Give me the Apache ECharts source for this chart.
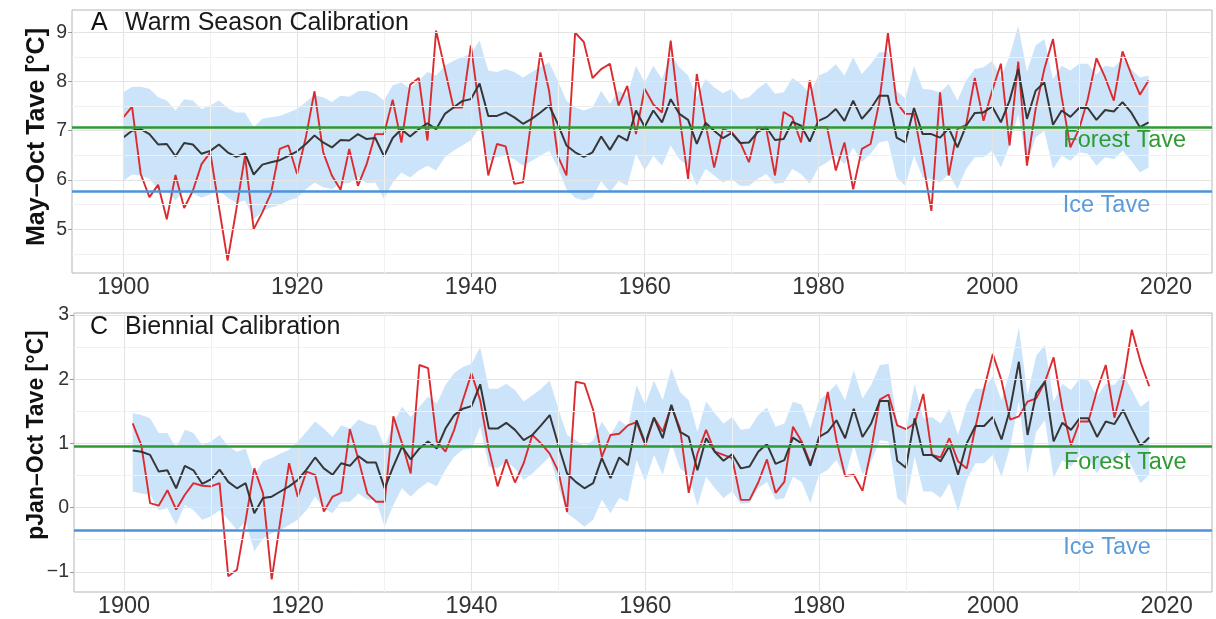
<!DOCTYPE html>
<html>
<head>
<meta charset="utf-8">
<script src="https://cdn.jsdelivr.net/npm/echarts@6.0.0/dist/echarts.min.js"></script>
<style>
html,body{margin:0;padding:0;background:#fff;}
#chart{width:1216px;height:619px;}
</style>
</head>
<body>
<div id="chart"></div>
<script>
// ---------- tick labels / reference values ----------
const xTickLabels = [1900, 1920, 1940, 1960, 1980, 2000, 2020];
const xMinorGrid = [1910, 1930, 1950, 1970, 1990, 2010];
const topYTicks = [5, 6, 7, 8, 9];
const topYMinor = [4.5, 5.5, 6.5, 7.5, 8.5];
const botYTicks = [-1, 0, 1, 2, 3];
const botYMinor = [-0.5, 0.5, 1.5, 2.5];
const topForest = 7.07, topIce = 5.78;
const botForest = 0.955, botIce = -0.352;

// ---------- panel A: Warm Season Calibration (1900-2018) ----------
const topStartYear = 1900;
const topObserved = [
7.27,7.49,6.12,5.65,5.90,5.20,6.10,5.43,5.78,6.32,
6.56,5.45,4.36,5.40,6.49,5.00,5.34,5.73,6.63,6.70,
6.12,6.86,7.80,6.56,6.09,5.80,6.63,5.88,6.32,6.93,
6.93,7.63,6.76,7.93,8.07,6.80,9.03,8.25,7.47,7.47,
8.73,7.40,6.09,6.73,6.68,5.92,5.95,7.27,8.59,7.81,
6.49,6.09,8.99,8.80,8.07,8.25,8.36,7.51,7.91,6.93,
7.85,7.53,7.37,8.83,7.30,6.02,8.15,7.14,6.25,7.03,
6.97,6.76,6.36,7.07,7.03,6.09,7.38,7.27,6.76,8.02,
7.07,7.07,6.19,6.76,5.81,6.63,6.73,7.57,8.98,7.57,
7.34,7.34,6.40,5.37,7.78,6.09,7.03,7.12,8.07,7.20,
7.81,8.36,6.70,8.40,6.29,7.44,8.25,8.86,7.68,6.66,
7.03,7.64,8.47,8.08,7.61,8.61,8.15,7.73,8.02
];
const topRecon = [
6.86,7.00,7.03,6.93,6.72,6.73,6.48,6.75,6.72,6.53,
6.59,6.72,6.56,6.47,6.54,6.11,6.31,6.36,6.40,6.49,
6.58,6.73,6.90,6.76,6.66,6.81,6.80,6.93,6.83,6.85,
6.48,6.85,7.03,6.88,7.03,7.15,7.03,7.34,7.47,7.60,
7.64,7.96,7.30,7.30,7.37,7.27,7.14,7.24,7.37,7.51,
7.14,6.70,6.56,6.47,6.56,6.88,6.61,6.90,6.80,7.41,
7.08,7.41,7.17,7.64,7.34,7.22,6.73,7.16,7.00,6.85,
6.95,6.75,6.76,6.97,7.07,6.81,6.83,7.18,7.10,6.78,
7.20,7.28,7.44,7.20,7.61,7.24,7.44,7.71,7.71,6.86,
6.76,7.46,6.93,6.93,6.86,7.05,6.66,7.10,7.36,7.37,
7.49,7.17,7.61,8.25,7.24,7.81,7.98,7.12,7.41,7.28,
7.46,7.46,7.22,7.42,7.39,7.58,7.37,7.07,7.17
];
const topUpper = [
7.78,7.89,7.89,7.85,7.68,7.61,7.41,7.64,7.61,7.44,
7.51,7.61,7.46,7.37,7.37,7.07,7.24,7.27,7.30,7.37,
7.44,7.58,7.72,7.68,7.58,7.71,7.69,7.80,7.81,7.75,
7.61,7.92,7.98,7.85,8.02,8.19,8.12,8.32,8.42,8.49,
8.56,8.83,8.22,8.19,8.25,8.19,8.08,8.19,8.29,8.39,
8.02,7.61,7.47,7.41,7.47,7.81,7.54,7.81,7.71,8.32,
7.98,8.32,8.05,8.56,8.29,8.12,7.68,8.05,7.88,7.76,
7.85,7.64,7.68,7.85,7.98,7.75,7.78,8.07,7.95,7.75,
8.12,8.19,8.35,8.12,8.49,8.15,8.35,8.59,8.59,7.81,
7.66,8.32,7.85,7.83,7.78,7.95,7.61,8.02,8.25,8.29,
8.42,8.08,8.52,9.13,8.19,8.73,8.86,8.05,8.32,8.22,
8.36,8.36,8.14,8.32,8.29,8.46,8.25,8.08,8.12
];
const topLower = [
5.98,6.11,6.09,6.02,5.81,5.78,5.58,5.78,5.73,5.64,
5.71,5.79,5.64,5.54,5.58,5.20,5.37,5.44,5.49,5.58,
5.64,5.81,5.95,5.85,5.81,5.93,5.93,6.07,5.93,5.95,
5.61,5.95,6.15,6.05,6.19,6.29,6.19,6.46,6.59,6.70,
6.80,7.07,6.39,6.46,6.49,6.42,6.29,6.39,6.49,6.59,
6.25,5.81,5.64,5.58,5.64,5.98,5.75,5.98,5.88,6.53,
6.19,6.49,6.29,6.70,6.42,6.29,5.88,6.22,6.09,5.95,
6.02,5.88,5.88,6.02,6.12,5.92,5.95,6.22,6.12,5.92,
6.25,6.36,6.49,6.32,6.66,6.36,6.53,6.76,6.80,6.05,
5.88,6.49,6.05,6.02,5.95,6.12,5.81,6.22,6.46,6.46,
6.59,6.25,6.70,7.34,6.32,6.86,7.00,6.22,6.49,6.39,
6.56,6.53,6.29,6.46,6.42,6.59,6.39,6.15,6.25
];

// ---------- panel C: Biennial Calibration (1901-2018) ----------
const botStartYear = 1901;
const botObserved = [
1.31,0.97,0.07,0.03,0.27,-0.03,0.20,0.38,0.34,
0.33,0.38,-1.07,-0.97,-0.20,0.61,0.22,-1.12,-0.20,0.69,
0.17,0.56,0.51,-0.06,0.17,0.23,1.22,0.74,0.22,0.09,
0.09,1.42,1.00,0.53,2.22,2.17,1.03,0.87,1.21,1.67,
2.09,1.67,0.90,0.33,0.75,0.39,0.69,1.13,1.00,0.84,
0.56,-0.07,1.96,1.93,1.52,0.79,1.13,1.15,1.28,1.33,
0.97,1.40,1.18,1.58,1.23,0.23,0.84,1.21,0.87,0.82,
0.77,0.12,0.12,0.39,0.75,0.23,0.40,1.26,1.03,0.69,
1.05,1.80,1.05,0.49,0.51,0.26,0.90,1.68,1.76,1.28,
1.22,1.31,1.77,0.82,0.78,1.08,0.72,0.61,1.25,1.85,
2.39,1.98,1.37,1.42,1.65,1.70,1.96,2.34,1.55,0.97,
1.34,1.34,1.83,2.22,1.40,1.93,2.77,2.27,1.89
];
const botRecon = [
0.89,0.87,0.82,0.56,0.58,0.30,0.65,0.58,0.37,
0.44,0.59,0.40,0.30,0.38,-0.09,0.15,0.17,0.25,0.33,
0.43,0.59,0.78,0.61,0.51,0.69,0.65,0.80,0.70,0.70,
0.30,0.64,0.95,0.75,0.92,1.03,0.92,1.23,1.44,1.54,
1.58,1.92,1.23,1.23,1.32,1.21,1.05,1.13,1.28,1.44,
0.97,0.53,0.40,0.30,0.38,0.77,0.46,0.78,0.66,1.36,
1.00,1.40,1.08,1.60,1.18,1.10,0.58,1.08,0.87,0.73,
0.83,0.61,0.64,0.87,0.99,0.68,0.74,1.09,1.00,0.65,
1.10,1.18,1.36,1.08,1.54,1.10,1.31,1.66,1.66,0.73,
0.62,1.39,0.82,0.82,0.72,0.96,0.51,1.00,1.27,1.27,
1.41,1.06,1.54,2.27,1.13,1.78,1.96,1.03,1.32,1.21,
1.39,1.39,1.10,1.34,1.30,1.52,1.23,0.96,1.09
];
const botUpper = [
1.47,1.44,1.39,1.16,1.16,0.92,1.21,1.16,0.97,
1.03,1.13,0.95,0.87,0.92,0.51,0.72,0.77,0.84,0.90,
1.03,1.18,1.34,1.23,1.10,1.28,1.23,1.37,1.31,1.27,
0.95,1.31,1.57,1.41,1.57,1.73,1.62,1.91,2.09,2.19,
2.24,2.50,1.85,1.85,1.93,1.83,1.65,1.75,1.85,1.98,
1.54,1.13,1.05,0.95,1.05,1.34,1.13,1.36,1.26,1.91,
1.60,1.98,1.67,2.17,1.80,1.67,1.18,1.65,1.47,1.31,
1.41,1.21,1.23,1.44,1.56,1.26,1.31,1.65,1.60,1.23,
1.67,1.78,1.93,1.67,2.14,1.70,1.91,2.22,2.24,1.31,
1.21,1.93,1.39,1.41,1.31,1.54,1.13,1.60,1.85,1.85,
2.04,1.67,2.14,2.81,1.75,2.37,2.53,1.65,1.93,1.83,
2.01,1.98,1.73,1.93,1.91,2.09,1.83,1.57,1.67
];
const botLower = [
0.25,0.22,0.20,-0.04,-0.01,-0.27,0.04,-0.04,-0.19,
-0.14,-0.04,-0.19,-0.35,-0.22,-0.68,-0.48,-0.40,-0.35,-0.27,
-0.19,-0.04,0.17,-0.01,-0.09,0.09,0.09,0.22,0.12,0.12,
-0.30,0.04,0.30,0.17,0.30,0.40,0.33,0.59,0.79,0.90,
0.92,1.26,0.64,0.61,0.72,0.61,0.43,0.53,0.66,0.79,
0.33,-0.09,-0.19,-0.30,-0.19,0.12,-0.09,0.15,0.09,0.74,
0.40,0.82,0.51,1.00,0.61,0.51,0.02,0.48,0.30,0.15,
0.25,0.06,0.07,0.30,0.40,0.12,0.15,0.48,0.40,0.07,
0.51,0.59,0.74,0.48,0.97,0.51,0.72,1.05,1.03,0.15,
0.04,0.79,0.25,0.25,0.15,0.38,-0.06,0.43,0.69,0.69,
0.82,0.48,0.95,1.65,0.53,1.18,1.36,0.46,0.74,0.64,
0.82,0.79,0.53,0.77,0.72,0.90,0.64,0.38,0.51
];

// ---------- build ----------
const C = {
  red: '#dc2b2f', black: '#363636', band: '#c8e2fa',
  green: '#2f9a33', blue: '#4d93d8', greenText: '#2e9b32', blueText: '#5b9bd8',
  major: '#e4e4e4', minor: '#f1f1f1', border: '#b5b5b5', text: '#333333'
};
const FONT = 'Liberation Sans, Arial, Helvetica, sans-serif';

function pairs(start, arr) { return arr.map((v, i) => [start + i, v]); }

function gridLines(gi, yMajor, yMinor) {
  const d = [];
  xMinorGrid.forEach(v => d.push({ xAxis: v, lineStyle: { color: C.minor, width: 1, type: 'solid' } }));
  yMinor.forEach(v => d.push({ yAxis: v, lineStyle: { color: C.minor, width: 1, type: 'solid' } }));
  xTickLabels.forEach(v => d.push({ xAxis: v, lineStyle: { color: C.major, width: 1.1, type: 'solid' } }));
  yMajor.forEach(v => d.push({ yAxis: v, lineStyle: { color: C.major, width: 1.1, type: 'solid' } }));
  return {
    type: 'line', xAxisIndex: gi, yAxisIndex: gi, data: [], z: 0, silent: true,
    markLine: { silent: true, symbol: ['none', 'none'], label: { show: false }, animation: false, data: d }
  };
}

function bandSeries(gi, start, up, lo) {
  return {
    type: 'custom', xAxisIndex: gi, yAxisIndex: gi, z: 1, silent: true,
    data: [[start, up[0]]],
    renderItem: function (params, api) {
      const pts = [];
      for (let i = 0; i < up.length; i++) pts.push(api.coord([start + i, up[i]]));
      for (let i = lo.length - 1; i >= 0; i--) pts.push(api.coord([start + i, lo[i]]));
      return { type: 'polygon', shape: { points: pts }, style: { fill: C.band, opacity: 0.92 } };
    }
  };
}

function panelSeries(gi, start, obs, rec, up, lo, forest, ice, forestLab, iceLab, labYear) {
  return [
    bandSeries(gi, start, up, lo),
    { type: 'line', xAxisIndex: gi, yAxisIndex: gi, data: [], z: 2, silent: true,
      markLine: { silent: true, symbol: ['none', 'none'], label: { show: false }, animation: false,
        data: [
          { yAxis: forest, lineStyle: { color: C.green, width: 2.6, type: 'solid' } },
          { yAxis: ice, lineStyle: { color: C.blue, width: 2.6, type: 'solid' } }
        ] },
      markPoint: { silent: true, animation: false, symbol: 'circle', symbolSize: 0,
        data: [
          { coord: [labYear, forestLab], label: { show: true, position: 'inside', formatter: 'Forest Tave',
            color: C.greenText, fontSize: 23.5, fontFamily: FONT } },
          { coord: [labYear, iceLab], label: { show: true, position: 'inside', formatter: 'Ice Tave',
            color: C.blueText, fontSize: 23.5, fontFamily: FONT, align: 'left', offset: [-62, 0] } }
        ] } },
    { type: 'line', xAxisIndex: gi, yAxisIndex: gi, data: pairs(start, obs), symbol: 'none',
      lineStyle: { color: C.red, width: 1.9 }, z: 3, silent: true },
    { type: 'line', xAxisIndex: gi, yAxisIndex: gi, data: pairs(start, rec), symbol: 'none',
      lineStyle: { color: C.black, width: 2 }, z: 4, silent: true }
  ];
}

function xAxis(gi, min, max) {
  return {
    type: 'value', gridIndex: gi, min: min, max: max,
    axisLine: { show: false }, splitLine: { show: false },
    axisTick: { show: true, customValues: xTickLabels, length: 4, lineStyle: { color: '#9a9a9a', width: 1 } },
    axisLabel: { customValues: xTickLabels, fontSize: 23.5, color: C.text, fontFamily: FONT, margin: 3,
      formatter: v => String(v) }
  };
}
function yAxis(gi, min, max, ticks) {
  return {
    type: 'value', gridIndex: gi, min: min, max: max,
    axisLine: { show: false }, splitLine: { show: false },
    axisTick: { show: true, customValues: ticks, length: 4, lineStyle: { color: '#9a9a9a', width: 1 } },
    axisLabel: { customValues: ticks, fontSize: 19.5, color: C.text, fontFamily: FONT, margin: 5,
      formatter: v => (v < 0 ? '\u2212' + Math.abs(v) : String(v)) }
  };
}

const option = {
  animation: false,
  backgroundColor: '#ffffff',
  grid: [
    { left: 72, top: 10, width: 1140, height: 263, show: true, borderColor: C.border, borderWidth: 1, backgroundColor: '#fff' },
    { left: 74, top: 313, width: 1138, height: 280, show: true, borderColor: C.border, borderWidth: 1, backgroundColor: '#fff' }
  ],
  xAxis: [xAxis(0, 1894.09, 2025.3), xAxis(1, 1894.245, 2025.23)],
  yAxis: [yAxis(0, 4.11, 9.45, topYTicks), yAxis(1, -1.315, 3.03, botYTicks)],
  series: [
    gridLines(0, topYTicks, topYMinor),
    gridLines(1, botYTicks, botYMinor),
    ...panelSeries(0, topStartYear, topObserved, topRecon, topUpper, topLower, topForest, topIce, 6.79, 5.49, 2015.25),
    ...panelSeries(1, botStartYear, botObserved, botRecon, botUpper, botLower, botForest, botIce, 0.70, -0.62, 2015.25)
  ],
  graphic: [
    { type: 'text', left: 91, top: 11, style: { text: 'A', font: '25px ' + FONT, fill: '#111' }, z: 10 },
    { type: 'text', left: 125, top: 11, style: { text: 'Warm Season Calibration', font: '25px ' + FONT, fill: '#1a1a1a' }, z: 10 },
    { type: 'text', left: 90, top: 315, style: { text: 'C', font: '25px ' + FONT, fill: '#111' }, z: 10 },
    { type: 'text', left: 125, top: 315, style: { text: 'Biennial Calibration', font: '25px ' + FONT, fill: '#1a1a1a' }, z: 10 },
    { type: 'text', x: 37, y: 137, rotation: Math.PI / 2,
      style: { text: 'May\u2013Oct Tave [\u00b0C]', font: 'bold 25px ' + FONT, fill: '#111', textAlign: 'center', textVerticalAlign: 'middle' }, z: 10 },
    { type: 'text', x: 37, y: 435, rotation: Math.PI / 2,
      style: { text: 'pJan\u2013Oct Tave [\u00b0C]', font: 'bold 23px ' + FONT, fill: '#111', textAlign: 'center', textVerticalAlign: 'middle' }, z: 10 }
  ]
};

const chart = echarts.init(document.getElementById('chart'), null, { renderer: 'canvas' });
chart.setOption(option);
</script>
</body>
</html>
